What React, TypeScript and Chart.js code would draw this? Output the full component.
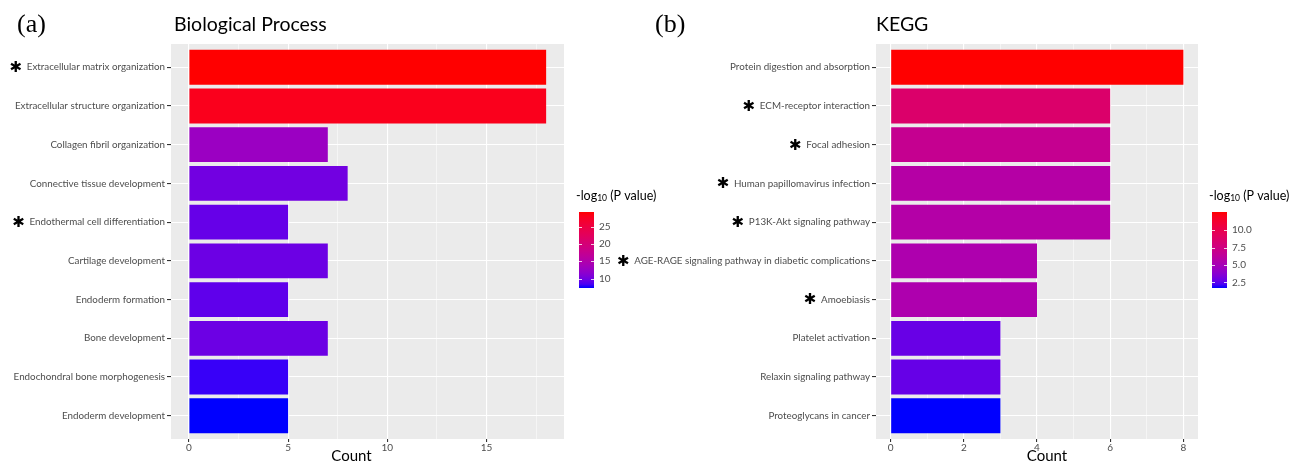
import React, { useEffect, useRef } from "react";
import { Chart, registerables } from "chart.js";
Chart.register(...registerables);

// ---------------- DATA ----------------
const BP_TERMS = [
  "Extracellular matrix organization",
  "Extracellular structure organization",
  "Collagen fibril organization",
  "Connective tissue development",
  "Endothermal cell differentiation",
  "Cartilage development",
  "Endoderm formation",
  "Bone development",
  "Endochondral bone morphogenesis",
  "Endoderm development",
];
const BP_COUNTS = [18, 18, 7, 8, 5, 7, 5, 7, 5, 5];
const BP_LOGP = [29.2, 28.0, 12.8, 10.0, 9.4, 9.7, 9.1, 9.7, 7.9, 7.3];
const BP_STARS = [true, false, false, false, true, false, false, false, false, false];
const BP_X_TICKS = [0, 2.5, 5, 7.5, 10, 12.5, 15, 17.5];
const BP_X_LABELS = ["0", "", "5", "", "10", "", "15", ""];
const BP_LEGEND_TICKS = [10, 15, 20, 25];
const BP_LEGEND_LABELS = ["10", "15", "20", "25"];
const BP_LIMITS = [7.3, 29.2];

const KEGG_TERMS = [
  "Protein digestion and absorption",
  "ECM-receptor interaction",
  "Focal adhesion",
  "Human papillomavirus infection",
  "P13K-Akt signaling pathway",
  "AGE-RAGE signaling pathway in diabetic complications",
  "Amoebiasis",
  "Platelet activation",
  "Relaxin signaling pathway",
  "Proteoglycans in cancer",
];
const KEGG_COUNTS = [8, 6, 6, 6, 6, 4, 4, 3, 3, 3];
const KEGG_LOGP = [12.6, 8.6, 6.8, 5.8, 5.7, 5.4, 5.4, 2.8, 2.75, 1.7];
const KEGG_STARS = [false, true, true, true, true, true, true, false, false, false];
const KEGG_X_TICKS = [0, 1, 2, 3, 4, 5, 6, 7, 8];
const KEGG_X_LABELS = ["0", "", "2", "", "4", "", "6", "", "8"];
const KEGG_LEGEND_TICKS = [2.5, 5, 7.5, 10];
const KEGG_LEGEND_LABELS = ["2.5", "5.0", "7.5", "10.0"];
const KEGG_LIMITS = [1.7, 12.6];

// ---------------- COLOUR RAMP (CIELAB, blue -> red) ----------------
const XN = 0.95047, YN = 1, ZN = 1.08883;
function toLinear(c: number) {
  c /= 255;
  return c <= 0.04045 ? c / 12.92 : Math.pow((c + 0.055) / 1.055, 2.4);
}
function toGamma(c: number) {
  const v = c <= 0.0031308 ? 12.92 * c : 1.055 * Math.pow(c, 1 / 2.4) - 0.055;
  return Math.round(Math.min(1, Math.max(0, v)) * 255);
}
function fLab(t: number) {
  return t > 216 / 24389 ? Math.cbrt(t) : ((24389 / 27) * t + 16) / 116;
}
function fInv(t: number) {
  const t3 = t * t * t;
  return t3 > 216 / 24389 ? t3 : (116 * t - 16) / (24389 / 27);
}
function rgbToLab(r: number, g: number, b: number) {
  const R = toLinear(r), G = toLinear(g), B = toLinear(b);
  const X = (0.4124 * R + 0.3576 * G + 0.1805 * B) / XN;
  const Y = (0.2126 * R + 0.7152 * G + 0.0722 * B) / YN;
  const Z = (0.0193 * R + 0.1192 * G + 0.9505 * B) / ZN;
  const fx = fLab(X), fy = fLab(Y), fz = fLab(Z);
  return [116 * fy - 16, 500 * (fx - fy), 200 * (fy - fz)];
}
function labToRgb(L: number, a: number, b: number) {
  const fy = (L + 16) / 116, fx = fy + a / 500, fz = fy - b / 200;
  const X = fInv(fx) * XN, Y = fInv(fy) * YN, Z = fInv(fz) * ZN;
  const R = 3.2406 * X - 1.5372 * Y - 0.4986 * Z;
  const G = -0.9689 * X + 1.8758 * Y + 0.0415 * Z;
  const B = 0.0557 * X - 0.204 * Y + 1.057 * Z;
  return `rgb(${toGamma(R)},${toGamma(G)},${toGamma(B)})`;
}
const LOW_LAB = rgbToLab(0, 0, 255);
const HIGH_LAB = rgbToLab(255, 0, 0);
function ramp(t: number) {
  const u = Math.min(1, Math.max(0, t));
  return labToRgb(
    LOW_LAB[0] + (HIGH_LAB[0] - LOW_LAB[0]) * u,
    LOW_LAB[1] + (HIGH_LAB[1] - LOW_LAB[1]) * u,
    LOW_LAB[2] + (HIGH_LAB[2] - LOW_LAB[2]) * u
  );
}

// ---------------- STYLE ----------------
const FONT = "Lato, 'Open Sans', sans-serif";
const AXIS_TEXT = "#4D4D4D";
const PANEL_BG = "#EBEBEB";
const W = 1295, H = 463;
const PLOT_TOP = 44;
const X_AXIS_H = 24;
const LABEL_SIZE = 9.8;
const TICK_LEN = 4;
const TICK_PAD = 2;

type Panel = {
  terms: string[]; counts: number[]; logp: number[]; stars: boolean[];
  xTicks: number[]; xLabels: string[]; xMin: number; xMax: number;
  legendTicks: number[]; legendLabels: string[]; limits: number[];
  tag: string; title: string;
};
type Layout = {
  canvasLeft: number; canvasWidth: number; axisWidth: number; padRight: number;
  legendX: number; countShift: number; tagX: number; titleX: number;
};

const PANEL_A: Panel = {
  terms: BP_TERMS, counts: BP_COUNTS, logp: BP_LOGP, stars: BP_STARS,
  xTicks: BP_X_TICKS, xLabels: BP_X_LABELS, xMin: -0.9, xMax: 18.9,
  legendTicks: BP_LEGEND_TICKS, legendLabels: BP_LEGEND_LABELS, limits: BP_LIMITS,
  tag: "(a)", title: "Biological Process",
};
const PANEL_B: Panel = {
  terms: KEGG_TERMS, counts: KEGG_COUNTS, logp: KEGG_LOGP, stars: KEGG_STARS,
  xTicks: KEGG_X_TICKS, xLabels: KEGG_X_LABELS, xMin: -0.4, xMax: 8.4,
  legendTicks: KEGG_LEGEND_TICKS, legendLabels: KEGG_LEGEND_LABELS, limits: KEGG_LIMITS,
  tag: "(b)", title: "KEGG",
};
const LAYOUT_A: Layout = {
  canvasLeft: 0, canvasWidth: 700, axisWidth: 171, padRight: 136,
  legendX: 579, countShift: -16, tagX: 17, titleX: 174,
};
const LAYOUT_B: Layout = {
  canvasLeft: 600, canvasWidth: 695, axisWidth: 276, padRight: 97,
  legendX: 1212, countShift: 10, tagX: 655, titleX: 876,
};

function makeChart(canvas: HTMLCanvasElement, p: Panel, L: Layout) {
  const [lo, hi] = p.limits;
  const norm = (v: number) => (v - lo) / (hi - lo);
  const colors = p.logp.map((v) => ramp(norm(v)));
  const majors = new Set(p.xTicks.filter((_, i) => p.xLabels[i] !== ""));

  const decor = {
    id: "decor",
    beforeDraw(chart: any) {
      const { ctx, chartArea: a } = chart;
      ctx.save();
      ctx.fillStyle = PANEL_BG;
      ctx.fillRect(a.left, a.top, a.right - a.left, a.bottom - a.top);
      ctx.restore();
    },
    afterDraw(chart: any) {
      const { ctx, chartArea: a } = chart;
      const ys = chart.scales.y;
      const off = L.canvasLeft;
      ctx.save();
      // stars
      ctx.font = `${LABEL_SIZE}px ${FONT}`;
      p.stars.forEach((s, i) => {
        if (!s) return;
        const y = ys.getPixelForValue(i);
        const w = ctx.measureText(p.terms[i]).width;
        const labelLeft = ys.right - TICK_LEN - TICK_PAD - w;
        ctx.save();
        ctx.font = `15px 'DejaVu Sans'`;
        ctx.fillStyle = "#000";
        ctx.textAlign = "center";
        ctx.textBaseline = "middle";
        ctx.fillText("\u2731", labelLeft - 11, y + 1);
        ctx.restore();
      });
      // tag & title
      ctx.fillStyle = "#000";
      ctx.textBaseline = "middle";
      ctx.textAlign = "left";
      ctx.font = `26px 'Liberation Serif', serif`;
      ctx.fillText(p.tag, L.tagX - off, 25);
      ctx.font = `19.5px ${FONT}`;
      ctx.fillText(p.title, L.titleX - off, 25);
      // x title
      ctx.font = `15px ${FONT}`;
      ctx.textAlign = "center";
      ctx.fillText("Count", (a.left + a.right) / 2 + L.countShift, 456);
      // colour bar
      const bx = L.legendX - off, bw = 15, bt = 212, bb = 288;
      const grad = ctx.createLinearGradient(0, bb, 0, bt);
      for (let k = 0; k <= 20; k++) grad.addColorStop(k / 20, ramp(k / 20));
      ctx.fillStyle = grad;
      ctx.fillRect(bx, bt, bw, bb - bt);
      const vy = (v: number) => bb - norm(v) * (bb - bt);
      ctx.strokeStyle = "rgba(255,255,255,0.8)";
      ctx.lineWidth = 1;
      ctx.font = `10px ${FONT}`;
      ctx.fillStyle = AXIS_TEXT;
      ctx.textAlign = "left";
      ctx.textBaseline = "middle";
      p.legendTicks.forEach((v, i) => {
        const y = Math.round(vy(v)) + 0.5;
        ctx.beginPath();
        ctx.moveTo(bx, y); ctx.lineTo(bx + 3, y);
        ctx.moveTo(bx + bw - 3, y); ctx.lineTo(bx + bw, y);
        ctx.stroke();
        ctx.fillText(p.legendLabels[i], bx + bw + 5, vy(v));
      });
      // legend title
      const tx = bx - 3, ty = 196;
      ctx.fillStyle = "#000";
      ctx.font = `12.5px ${FONT}`;
      ctx.fillText("-log", tx, ty);
      let x = tx + ctx.measureText("-log").width;
      ctx.font = `8.5px ${FONT}`;
      ctx.fillText("10", x, ty + 2);
      x += ctx.measureText("10").width;
      ctx.font = `12.5px ${FONT}`;
      ctx.fillText(" (P value)", x, ty);
      ctx.restore();
    },
  };

  return new Chart(canvas, {
    type: "bar",
    data: {
      datasets: [
        {
          data: p.counts.map((c, i) => ({ x: c, y: i })),
          backgroundColor: colors,
          borderWidth: 0,
          barPercentage: 0.9,
          categoryPercentage: 1,
        },
      ],
    },
    options: {
      indexAxis: "y",
      responsive: false,
      animation: false,
      layout: { padding: { top: PLOT_TOP, right: L.padRight, left: 0, bottom: 0 } },
      plugins: { legend: { display: false }, tooltip: { enabled: false }, title: { display: false } },
      scales: {
        x: {
          type: "linear",
          min: p.xMin,
          max: p.xMax,
          afterBuildTicks: (s: any) => { s.ticks = p.xTicks.map((v) => ({ value: v })); },
          afterFit: (s: any) => { s.height = X_AXIS_H; },
          ticks: {
            autoSkip: false,
            maxRotation: 0,
            padding: 0,
            color: AXIS_TEXT,
            font: { family: FONT, size: 10 },
            callback: (_v: any, i: number) => p.xLabels[i],
          },
          grid: {
            color: "#FFFFFF",
            lineWidth: (c: any) => (c.tick && majors.has(c.tick.value) ? 1.1 : 0.5),
            tickColor: (c: any) => (c.tick && majors.has(c.tick.value) ? "#333333" : "rgba(0,0,0,0)"),
            tickLength: 3,
            drawTicks: true,
          },
          border: { display: false },
        },
        y: {
          type: "linear",
          offset: false,
          min: -0.6,
          max: p.terms.length - 0.4,
          reverse: true,
          afterBuildTicks: (s: any) => { s.ticks = p.terms.map((_, i) => ({ value: i })); },
          afterFit: (s: any) => { s.width = L.axisWidth; },
          ticks: {
            autoSkip: false,
            padding: TICK_PAD,
            color: AXIS_TEXT,
            font: { family: FONT, size: LABEL_SIZE },
            callback: (_v: any, i: number) => p.terms[i],
          },
          grid: { offset: false, color: "#FFFFFF", lineWidth: 1.1, tickColor: "#333333", tickLength: TICK_LEN },
          border: { display: false },
        },
      },
    } as any,
    plugins: [decor],
  });
}

function PanelChart({ panel, layout }: { panel: Panel; layout: Layout }) {
  const ref = useRef<HTMLCanvasElement>(null);
  useEffect(() => {
    if (!ref.current) return;
    const c = makeChart(ref.current, panel, layout);
    return () => c.destroy();
  }, [panel, layout]);
  return (
    <canvas
      ref={ref}
      width={layout.canvasWidth}
      height={H}
      style={{ position: "absolute", left: layout.canvasLeft, top: 0, width: layout.canvasWidth, height: H }}
    />
  );
}

export default function App() {
  return (
    <div style={{ position: "fixed", left: 0, top: 0, width: W, height: H, background: "#fff", overflow: "hidden" }}>
      <PanelChart panel={PANEL_A} layout={LAYOUT_A} />
      <PanelChart panel={PANEL_B} layout={LAYOUT_B} />
    </div>
  );
}
